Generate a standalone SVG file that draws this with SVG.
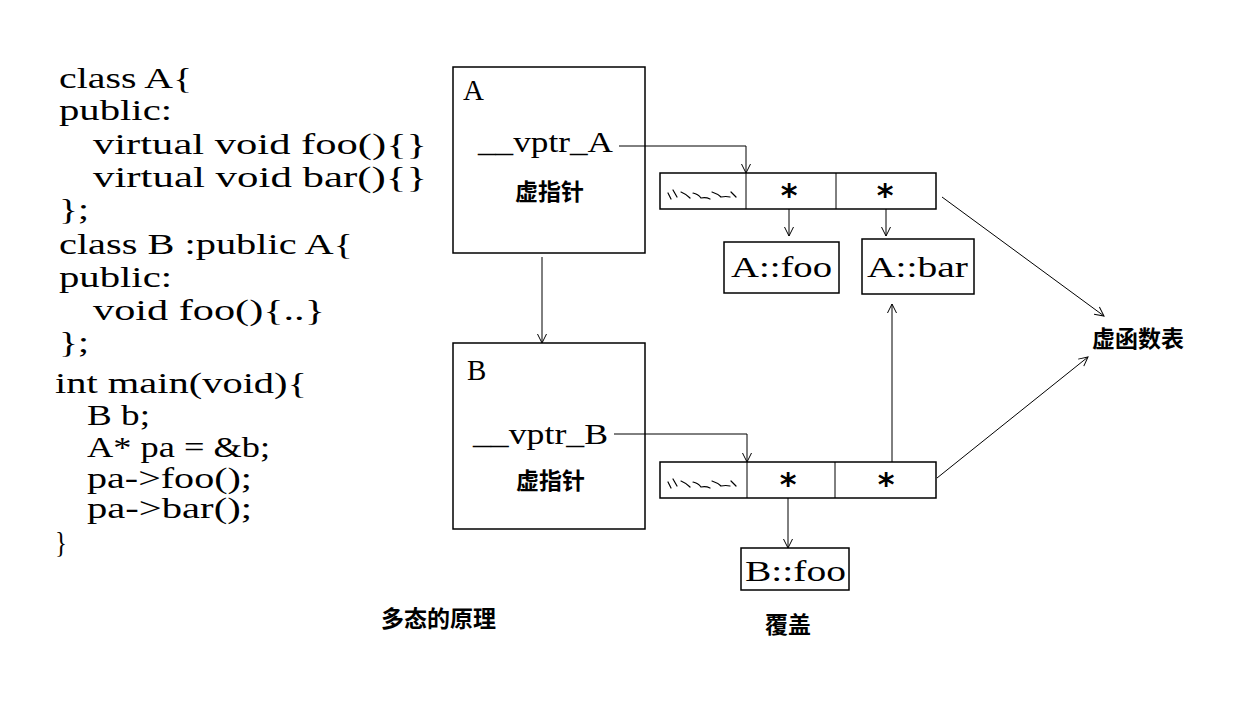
<svg xmlns="http://www.w3.org/2000/svg" width="1256" height="722" viewBox="0 0 1256 722">
<style>
.code{font-family:"Liberation Serif","Times New Roman",serif;font-size:29px;fill:#000}
.lbl{font-family:"Liberation Serif","Times New Roman",serif;font-size:29px;fill:#000}
.cn{font-family:"Noto Sans CJK SC","Noto Sans",sans-serif;font-size:23px;font-weight:bold;fill:#000}
.box{fill:#fff;stroke:#000;stroke-width:1.5}
.ln{fill:none;stroke:#000;stroke-width:1}
.sq{fill:none;stroke:#000;stroke-width:1.2;stroke-linecap:round}
.star{font-family:"DejaVu Sans",sans-serif;font-size:32px;font-weight:bold;fill:#000;text-anchor:middle}
</style>
<defs>
<marker id="arr" markerUnits="userSpaceOnUse" markerWidth="12" markerHeight="12" refX="10" refY="5" orient="auto" viewBox="0 0 12 10">
<path d="M1,0.5 L10,5 L1,9.5" fill="none" stroke="#000" stroke-width="1"/>
</marker>
</defs>
<rect width="1256" height="722" fill="#fff"/>

<g id="code">
<text class="code" x="59" y="88" textLength="133" lengthAdjust="spacingAndGlyphs">class A{</text>
<text class="code" x="59" y="120" textLength="113" lengthAdjust="spacingAndGlyphs">public:</text>
<text class="code" x="93" y="154" textLength="334" lengthAdjust="spacingAndGlyphs">virtual void foo(){}</text>
<text class="code" x="93" y="187" textLength="334" lengthAdjust="spacingAndGlyphs">virtual void bar(){}</text>
<text class="code" x="59" y="219" textLength="30" lengthAdjust="spacingAndGlyphs">};</text>
<text class="code" x="59" y="254" textLength="294" lengthAdjust="spacingAndGlyphs">class B :public A{</text>
<text class="code" x="59" y="287" textLength="113" lengthAdjust="spacingAndGlyphs">public:</text>
<text class="code" x="93" y="320" textLength="232" lengthAdjust="spacingAndGlyphs">void foo(){..}</text>
<text class="code" x="59" y="352" textLength="30" lengthAdjust="spacingAndGlyphs">};</text>
<text class="code" x="55" y="393" textLength="252" lengthAdjust="spacingAndGlyphs">int main(void){</text>
<text class="code" x="87" y="425" textLength="63" lengthAdjust="spacingAndGlyphs">B b;</text>
<text class="code" x="87" y="457" textLength="183" lengthAdjust="spacingAndGlyphs">A* pa = &amp;b;</text>
<text class="code" x="87" y="488" textLength="165" lengthAdjust="spacingAndGlyphs">pa-&gt;foo();</text>
<text class="code" x="87" y="518" textLength="165" lengthAdjust="spacingAndGlyphs">pa-&gt;bar();</text>
<text class="code" x="55" y="552" textLength="12" lengthAdjust="spacingAndGlyphs" font-size="33">}</text>
</g>

<g id="classA">
<rect class="box" x="453" y="67" width="192" height="186"/>
<text class="lbl" x="463" y="100">A</text>
<text class="lbl" x="478" y="152" textLength="135" lengthAdjust="spacingAndGlyphs">__vptr_A</text>
<text class="cn" x="515" y="200">虚指针</text>
</g>

<g id="classB">
<rect class="box" x="453" y="343" width="192" height="186"/>
<text class="lbl" x="467" y="380">B</text>
<text class="lbl" x="473" y="444" textLength="135" lengthAdjust="spacingAndGlyphs">__vptr_B</text>
<text class="cn" x="516" y="489">虚指针</text>
</g>

<g id="vtableA">
<rect class="box" x="660" y="173" width="276" height="36"/>
<line class="ln" x1="746" y1="173" x2="746" y2="209" stroke-width="1.5"/>
<line class="ln" x1="836" y1="173" x2="836" y2="209" stroke-width="1.5"/>
<path class="sq" d="M668,193 l3,6 M673,190 l4,7 M681,192 q5,2 9,6 M693,193 q5,1 8,5 q5,-1 9,1 M712,192 q6,2 9,5 q5,-1 9,0 M731,192 l5,5"/>
<text class="star" x="789" y="206">*</text>
<text class="star" x="885" y="206">*</text>
</g>

<g id="vtableB">
<rect class="box" x="660" y="462" width="276" height="36"/>
<line class="ln" x1="747" y1="462" x2="747" y2="498" stroke-width="1.5"/>
<line class="ln" x1="835" y1="462" x2="835" y2="498" stroke-width="1.5"/>
<path class="sq" d="M668,482 l3,6 M673,479 l4,7 M681,481 q5,2 9,6 M693,482 q5,1 8,5 q5,-1 9,1 M712,481 q6,2 9,5 q5,-1 9,0 M731,481 l5,5"/>
<text class="star" x="788" y="495">*</text>
<text class="star" x="886" y="495">*</text>
</g>

<g id="Afoo">
<rect class="box" x="724" y="242" width="115" height="51"/>
<text class="lbl" x="731" y="277" textLength="101" lengthAdjust="spacingAndGlyphs">A::foo</text>
</g>

<g id="Abar">
<rect class="box" x="862" y="239" width="112" height="55"/>
<text class="lbl" x="867" y="277" textLength="101" lengthAdjust="spacingAndGlyphs">A::bar</text>
</g>

<g id="Bfoo">
<rect class="box" x="741" y="548" width="108" height="42"/>
<text class="lbl" x="745" y="581" textLength="101" lengthAdjust="spacingAndGlyphs">B::foo</text>
</g>

<g id="vtblLabel">
<text class="cn" x="1092" y="347">虚函数表</text>
</g>

<g id="captions">
<text class="cn" x="381" y="627">多态的原理</text>
<text class="cn" x="765" y="633">覆盖</text>
</g>

<g id="connectors">
<line class="ln" x1="542" y1="257" x2="542" y2="343" marker-end="url(#arr)"/>
<polyline class="ln" points="619,146 746,146 746,173" marker-end="url(#arr)"/>
<polyline class="ln" points="614,434 747,434 747,462" marker-end="url(#arr)"/>
<line class="ln" x1="789" y1="209" x2="789" y2="236" marker-end="url(#arr)"/>
<line class="ln" x1="886" y1="209" x2="886" y2="236" marker-end="url(#arr)"/>
<line class="ln" x1="788" y1="498" x2="788" y2="548" marker-end="url(#arr)"/>
<line class="ln" x1="892" y1="462" x2="892" y2="304" marker-end="url(#arr)"/>
<line class="ln" x1="942" y1="197" x2="1104" y2="316" marker-end="url(#arr)"/>
<line class="ln" x1="937" y1="478" x2="1088" y2="357" marker-end="url(#arr)"/>
</g>
</svg>
